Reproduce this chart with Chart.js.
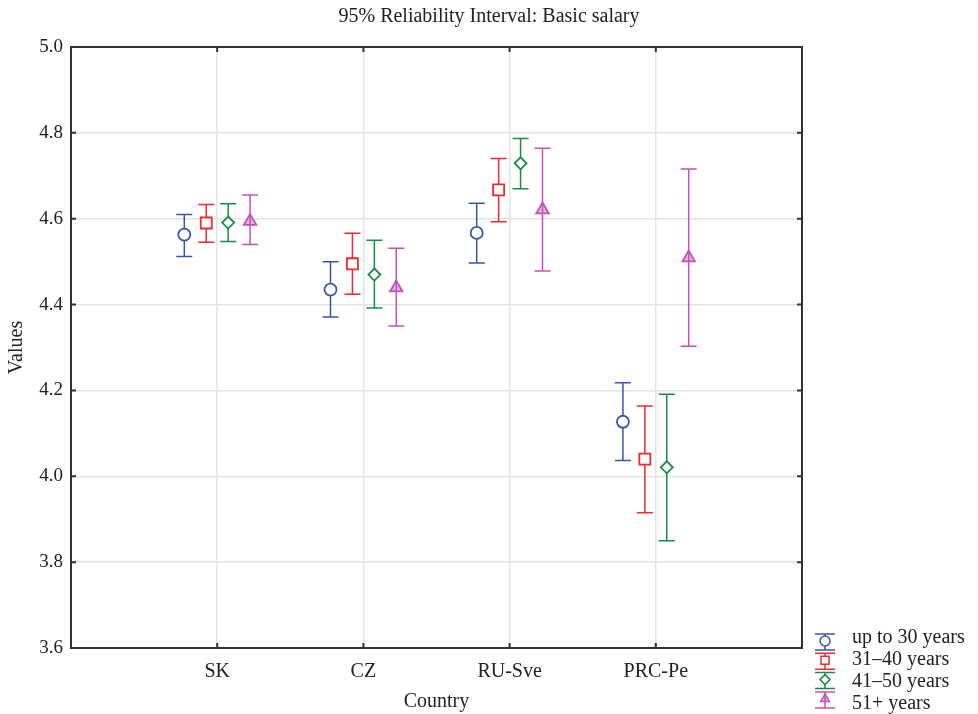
<!DOCTYPE html>
<html>
<head>
<meta charset="utf-8">
<title>95% Reliability Interval: Basic salary</title>
<script src="https://cdn.jsdelivr.net/npm/chart.js@4.4.0/dist/chart.umd.min.js"></script>
<style>
  html, body { margin: 0; padding: 0; background: #fff; }
  #wrap { width: 978px; height: 714px; }
</style>
</head>
<body>
<div id="wrap"><canvas id="chart"></canvas></div>
<script>
// ---- categories / series ----
const countries = ['SK', 'CZ', 'RU-Sve', 'PRC-Pe'];
const groups = ['up to 30 years', '31–40 years', '41–50 years', '51+ years'];
const yTicks = [3.6, 3.8, 4.0, 4.2, 4.4, 4.6, 4.8, 5.0];

// ---- means and 95% interval limits (SK, CZ, RU-Sve, PRC-Pe) ----
const meanUpTo30 = [4.563, 4.435, 4.567, 4.127];
const lowUpTo30  = [4.512, 4.371, 4.497, 4.037];
const highUpTo30 = [4.610, 4.500, 4.636, 4.218];

const mean31to40 = [4.590, 4.495, 4.667, 4.040];
const low31to40  = [4.545, 4.424, 4.593, 3.915];
const high31to40 = [4.633, 4.566, 4.740, 4.164];

const mean41to50 = [4.591, 4.470, 4.729, 4.021];
const low41to50  = [4.547, 4.392, 4.670, 3.850];
const high41to50 = [4.635, 4.550, 4.787, 4.191];

const mean51plus = [4.594, 4.439, 4.621, 4.509];
const low51plus  = [4.540, 4.350, 4.478, 4.303];
const high51plus = [4.655, 4.531, 4.764, 4.716];

const means = [meanUpTo30, mean31to40, mean41to50, mean51plus];
const lows  = [lowUpTo30, low31to40, low41to50, low51plus];
const highs = [highUpTo30, high31to40, high41to50, high51plus];

// ---- styles ----
const COLORS = ['#3a55a6', '#ee2b2e', '#1b8a48', '#c253b5'];
const FILLS = ['#ffffff', '#ffffff', '#ffffff', 'rgba(194,83,181,0.45)'];
const SHAPES = ['circle', 'rect', 'rectRot', 'triangle'];
const RADII = [6, 7.8, 6, 7.2];
const OFFSETS = [-0.225, -0.075, 0.075, 0.225];   // shift from category centre, in category units
const FONT = "'Liberation Serif', 'Times New Roman', serif";
const INK = '#333333';

const datasets = groups.map((name, g) => ({
    label: name,
    data: countries.map((c, i) => ({ x: i + 1 + OFFSETS[g], y: means[g][i] })),
    borderColor: COLORS[g],
    backgroundColor: FILLS[g],
    pointStyle: SHAPES[g],
    pointRadius: RADII[g],
    pointHoverRadius: RADII[g],
    pointBorderWidth: 1.8,
    showLine: false
}));

// small shape helper for the legend symbols
function drawShape(ctx, shape, x, y, r) {
    ctx.beginPath();
    if (shape === 'circle') {
        ctx.arc(x, y, r, 0, Math.PI * 2);
    } else if (shape === 'rect') {
        ctx.rect(x - r * 0.8, y - r * 0.8, r * 1.6, r * 1.6);
    } else if (shape === 'rectRot') {
        ctx.moveTo(x, y - r); ctx.lineTo(x + r, y); ctx.lineTo(x, y + r); ctx.lineTo(x - r, y);
        ctx.closePath();
    } else {
        ctx.moveTo(x, y - r); ctx.lineTo(x + r * 0.87, y + r * 0.5); ctx.lineTo(x - r * 0.87, y + r * 0.5);
        ctx.closePath();
    }
}

// whiskers with caps, drawn under the markers
const errorBars = {
    id: 'errorBars',
    beforeDatasetsDraw(chart) {
        const { ctx, scales: { x, y } } = chart;
        ctx.save();
        ctx.lineWidth = 1.5;
        chart.data.datasets.forEach((ds, g) => {
            ctx.strokeStyle = COLORS[g];
            ds.data.forEach((p, i) => {
                const px = x.getPixelForValue(p.x);
                const top = y.getPixelForValue(highs[g][i]);
                const bot = y.getPixelForValue(lows[g][i]);
                ctx.beginPath();
                ctx.moveTo(px, top); ctx.lineTo(px, bot);
                ctx.moveTo(px - 8, top); ctx.lineTo(px + 8, top);
                ctx.moveTo(px - 8, bot); ctx.lineTo(px + 8, bot);
                ctx.stroke();
            });
        });
        ctx.restore();
    }
};

// closed frame with inward tick marks, and the legend beside the plot
const frameAndLegend = {
    id: 'frameAndLegend',
    afterDraw(chart) {
        const { ctx, chartArea: a, scales: { x, y } } = chart;
        ctx.save();
        ctx.strokeStyle = INK;
        ctx.lineWidth = 2;
        ctx.strokeRect(a.left, a.top, a.right - a.left, a.bottom - a.top);
        ctx.beginPath();
        yTicks.forEach(v => {
            const py = y.getPixelForValue(v);
            ctx.moveTo(a.left, py); ctx.lineTo(a.left + 5, py);
            ctx.moveTo(a.right, py); ctx.lineTo(a.right - 5, py);
        });
        countries.forEach((c, i) => {
            const px = x.getPixelForValue(i + 1);
            ctx.moveTo(px, a.top); ctx.lineTo(px, a.top + 5);
            ctx.moveTo(px, a.bottom); ctx.lineTo(px, a.bottom - 5);
        });
        ctx.stroke();

        // legend
        ctx.font = '20px ' + FONT;
        ctx.textBaseline = 'middle';
        groups.forEach((name, g) => {
            const sy = a.bottom - 6 + g * 19.3;
            const sx = 825;
            ctx.strokeStyle = COLORS[g];
            ctx.lineWidth = 1.5;
            ctx.beginPath();
            ctx.moveTo(sx - 10, sy - 8); ctx.lineTo(sx + 10, sy - 8);
            ctx.moveTo(sx - 10, sy + 8); ctx.lineTo(sx + 10, sy + 8);
            ctx.moveTo(sx, sy - 8); ctx.lineTo(sx, sy + 8);
            ctx.stroke();
            drawShape(ctx, SHAPES[g], sx, sy - 1, 5);
            ctx.fillStyle = FILLS[g];
            ctx.fill();
            ctx.stroke();
            ctx.fillStyle = '#222';
            ctx.fillText(name, 852, a.bottom - 10 + g * 22);
        });
        ctx.restore();
    }
};

const config = {
    type: 'scatter',
    data: { datasets: datasets },
    options: {
        responsive: true,
        maintainAspectRatio: false,
        animation: false,
        layout: { padding: 0 },
        plugins: {
            legend: { display: false },
            tooltip: { enabled: false },
            title: {
                display: true,
                text: '95% Reliability Interval: Basic salary',
                color: '#222',
                font: { family: FONT, size: 20, weight: 'normal' },
                padding: { top: 5, bottom: 18 }
            }
        },
        scales: {
            x: {
                type: 'linear',
                min: 0,
                max: 5,
                afterBuildTicks: (s) => { s.ticks = countries.map((c, i) => ({ value: i + 1 })); },
                afterFit: (s) => { s.height = 66; },
                ticks: {
                    callback: (v) => countries[v - 1] || '',
                    color: '#222',
                    padding: 12,
                    maxRotation: 0,
                    font: { family: FONT, size: 20 }
                },
                grid: { color: '#e4e4e4', lineWidth: 1.5, drawTicks: false },
                border: { display: false },
                title: {
                    display: true,
                    text: 'Country',
                    color: '#222',
                    padding: { top: 0, bottom: 0 },
                    font: { family: FONT, size: 20 }
                }
            },
            y: {
                type: 'linear',
                min: 3.6,
                max: 5.0,
                afterBuildTicks: (s) => { s.ticks = yTicks.map(v => ({ value: v })); },
                afterFit: (s) => { s.width = 71; },
                ticks: {
                    callback: (v) => v.toFixed(1),
                    color: '#222',
                    padding: 8,
                    font: { family: FONT, size: 19 }
                },
                grid: { color: '#e4e4e4', lineWidth: 1.5, drawTicks: false },
                border: { display: false },
                title: {
                    display: true,
                    text: 'Values',
                    color: '#222',
                    padding: { top: 5, bottom: 0 },
                    font: { family: FONT, size: 20 }
                }
            },
            // empty right-hand axis that only reserves room for the legend
            yRight: {
                type: 'linear',
                position: 'right',
                afterFit: (s) => { s.width = 176; },
                ticks: { display: false },
                grid: { display: false },
                border: { display: false }
            }
        }
    },
    plugins: [errorBars, frameAndLegend]
};

const ctx = document.getElementById('chart').getContext('2d');
new Chart(ctx, config);
</script>
</body>
</html>
